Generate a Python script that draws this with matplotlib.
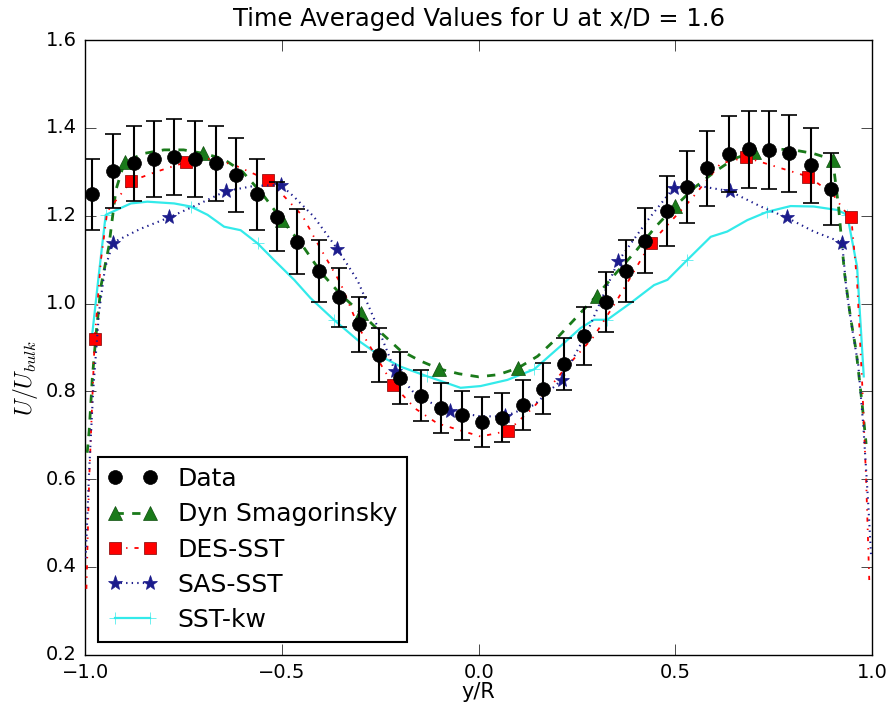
import matplotlib
matplotlib.use("Agg")
import matplotlib.pyplot as plt

# measured data (black circles + error bars)
data_x = [-0.982, -0.929, -0.876, -0.825, -0.774, -0.721, -0.668, -0.617, -0.564, -0.512,
          -0.461, -0.407, -0.355, -0.304, -0.253, -0.201, -0.147, -0.095, -0.043, 0.008,
          0.060, 0.114, 0.164, 0.217, 0.268, 0.323, 0.374, 0.424, 0.478, 0.529,
          0.581, 0.636, 0.687, 0.738, 0.789, 0.844, 0.895]
data_y = [1.249, 1.302, 1.319, 1.329, 1.334, 1.329, 1.319, 1.292, 1.249, 1.198,
          1.141, 1.074, 1.014, 0.953, 0.883, 0.831, 0.790, 0.762, 0.745, 0.730,
          0.740, 0.768, 0.806, 0.862, 0.927, 1.004, 1.074, 1.143, 1.211, 1.266,
          1.308, 1.340, 1.351, 1.350, 1.342, 1.315, 1.262]
data_err = [0.081, 0.085, 0.086, 0.087, 0.087, 0.086, 0.086, 0.084, 0.081, 0.078,
            0.074, 0.071, 0.067, 0.063, 0.062, 0.059, 0.058, 0.057, 0.056, 0.056,
            0.056, 0.057, 0.058, 0.060, 0.066, 0.068, 0.071, 0.074, 0.079, 0.082,
            0.085, 0.087, 0.088, 0.088, 0.087, 0.085, 0.082]

# Dyn Smagorinsky
dyn_x = [-0.995, -0.99, -0.982, -0.973, -0.96, -0.94, -0.922, -0.90, -0.85, -0.80,
         -0.75, -0.70, -0.65, -0.60, -0.55, -0.50, -0.45, -0.40, -0.35, -0.30,
         -0.25, -0.20, -0.15, -0.10, -0.05, 0.00, 0.05, 0.10, 0.15, 0.20,
         0.25, 0.30, 0.35, 0.40, 0.45, 0.50, 0.55, 0.60, 0.65, 0.70,
         0.75, 0.80, 0.85, 0.90, 0.915, 0.93, 0.945, 0.96, 0.975, 0.985]
dyn_y = [0.66, 0.71, 0.83, 0.925, 1.04, 1.13, 1.259, 1.323, 1.342, 1.350,
         1.350, 1.342, 1.330, 1.300, 1.250, 1.190, 1.135, 1.070, 1.020, 0.979,
         0.935, 0.894, 0.870, 0.851, 0.840, 0.833, 0.838, 0.853, 0.880, 0.922,
         0.970, 1.018, 1.070, 1.120, 1.175, 1.222, 1.265, 1.300, 1.330, 1.346,
         1.352, 1.350, 1.342, 1.328, 1.22, 1.07, 0.97, 0.89, 0.77, 0.68]
dyn_marks = [7, 11, 15, 19, 23, 27, 31, 35, 39, 43]

# DES-SST
des_x = [-0.997, -0.99, -0.976, -0.96, -0.944, -0.883, -0.82, -0.744, -0.68, -0.62,
         -0.535, -0.49, -0.448, -0.414, -0.351, -0.304, -0.217, -0.16, -0.105, 0.005,
         0.075, 0.141, 0.217, 0.293, 0.352, 0.437, 0.539, 0.615, 0.679, 0.784,
         0.838, 0.90, 0.928, 0.947, 0.962, 0.975, 0.985, 0.993]
des_y = [0.35, 0.60, 0.919, 1.10, 1.21, 1.279, 1.300, 1.322, 1.330, 1.315,
         1.281, 1.240, 1.200, 1.144, 1.046, 0.944, 0.814, 0.760, 0.727, 0.697,
         0.710, 0.765, 0.849, 0.925, 1.008, 1.137, 1.236, 1.319, 1.333, 1.304,
         1.289, 1.250, 1.213, 1.198, 1.05, 0.818, 0.60, 0.37]
des_marks = [2, 5, 7, 10, 16, 20, 25, 28, 30, 33]

# SAS-SST
sas_x = [-0.999, -0.99, -0.98, -0.965, -0.95, -0.929, -0.86, -0.787, -0.715, -0.643,
         -0.57, -0.503, -0.469, -0.419, -0.359, -0.308, -0.257, -0.213, -0.156, -0.074,
         0.005, 0.066, 0.141, 0.211, 0.276, 0.355, 0.43, 0.496, 0.546, 0.638,
         0.717, 0.783, 0.852, 0.924, 0.935, 0.95, 0.965, 0.978, 0.99, 0.998]
sas_y = [0.42, 0.62, 0.80, 0.98, 1.08, 1.139, 1.170, 1.196, 1.225, 1.256,
         1.268, 1.270, 1.243, 1.198, 1.124, 1.053, 0.947, 0.847, 0.788, 0.755,
         0.743, 0.743, 0.769, 0.826, 0.935, 1.097, 1.190, 1.264, 1.270, 1.256,
         1.221, 1.196, 1.164, 1.139, 1.03, 0.94, 0.86, 0.72, 0.55, 0.42]
sas_marks = [5, 7, 9, 11, 14, 17, 19, 21, 23, 25, 27, 29, 31, 33]

# SST-kw
sst_x = [-0.982, -0.965, -0.948, -0.884, -0.842, -0.774, -0.732, -0.689, -0.647, -0.605,
         -0.562, -0.520, -0.469, -0.427, -0.368, -0.308, -0.249, -0.198, -0.130, -0.046,
         0.005, 0.073, 0.141, 0.217, 0.259, 0.293, 0.327, 0.386, 0.446, 0.480,
         0.530, 0.590, 0.632, 0.683, 0.734, 0.793, 0.852, 0.912, 0.937, 0.962, 0.979]
sst_y = [0.932, 1.07, 1.202, 1.228, 1.232, 1.228, 1.221, 1.202, 1.175, 1.167,
         1.137, 1.099, 1.054, 1.012, 0.963, 0.917, 0.880, 0.856, 0.834, 0.808,
         0.812, 0.826, 0.850, 0.910, 0.944, 0.963, 0.963, 1.001, 1.042, 1.054,
         1.099, 1.152, 1.164, 1.190, 1.209, 1.222, 1.221, 1.213, 1.202, 1.084, 0.834]
sst_marks = [2, 6, 10, 14, 18, 22, 26, 30, 34, 38]

plt.style.use("classic")
plt.rcParams["font.family"] = ["DejaVu Sans"]

fig = plt.figure(figsize=(8.88, 7.04), dpi=100, facecolor="white")
ax = fig.add_axes([0.096, 0.070, 0.886, 0.873])

# data: circles via plot (legend shows two plain dots), bars via errorbar
ax.errorbar(data_x, data_y, yerr=data_err, fmt="none", ecolor="black",
            capsize=6, elinewidth=1.5, capthick=1.2, zorder=5)
ax.plot(data_x, data_y, "o", color="black", markersize=10, label="Data", zorder=6)
ax.plot(dyn_x, dyn_y, "--", color="#1a7a1a", lw=2, marker="^", markersize=10,
        markerfacecolor="#1a7a1a", markeredgecolor="#0d4d0d", markevery=dyn_marks,
        label="Dyn Smagorinsky", zorder=4)
ax.plot(des_x, des_y, "-.", color="red", lw=1.3, marker="s", markersize=9,
        markerfacecolor="red", markeredgecolor="#800000", markevery=des_marks,
        label="DES-SST", zorder=4)
ax.plot(sas_x, sas_y, ":", color="#1c1c8c", lw=1.5, marker="*", markersize=11,
        markerfacecolor="#1c1c8c", markeredgecolor="#1c1c8c", markevery=sas_marks,
        label="SAS-SST", zorder=4)
ax.plot(sst_x, sst_y, "-", color="#33eaea", lw=1.6, marker="+", markersize=8,
        markeredgecolor="#33eaea", markevery=sst_marks, label="SST-kw", zorder=3)

ax.set_xlim(-1.0, 1.0)
ax.set_ylim(0.2, 1.6)
ax.set_xticks([-1.0, -0.5, 0.0, 0.5, 1.0])
ax.set_yticks([0.2, 0.4, 0.6, 0.8, 1.0, 1.2, 1.4, 1.6])
ax.tick_params(labelsize=14, length=8, pad=6)
ax.set_title("Time Averaged Values for U at x/D = 1.6", fontsize=17.5, y=1.012)
ax.set_xlabel("y/R", fontsize=15, labelpad=0)
ax.set_ylabel(r"$U/U_{bulk}$", fontsize=17)
ax.yaxis.set_label_coords(-0.058, 0.45)

leg = ax.legend(loc="lower left", numpoints=2, fontsize=18, frameon=True,
                borderaxespad=0.5, handlelength=2.0, handletextpad=0.8,
                labelspacing=0.45, borderpad=0.4)
leg.get_frame().set_linewidth(1.5)
leg.get_frame().set_edgecolor("black")

fig.savefig("out.png", dpi=100, facecolor="white")
